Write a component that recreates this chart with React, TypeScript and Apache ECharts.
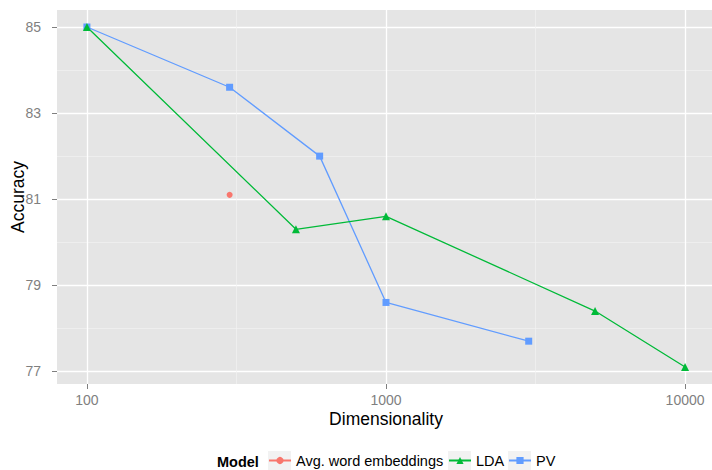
import React, { useEffect, useRef } from "react";
import * as echarts from "echarts";

// ---- data ----
const avgDims = [300];
const avgAcc = [81.1];
const ldaDims = [100, 500, 1000, 5000, 10000];
const ldaAcc = [85.0, 80.3, 80.6, 78.4, 77.1];
const pvDims = [100, 300, 600, 1000, 3000];
const pvAcc = [85.0, 83.6, 82.0, 78.6, 77.7];

const xTicks = [100, 1000, 10000];
const xMinorTicks = [316.2278, 3162.278];
const yTicks = [77, 79, 81, 83, 85];
const yMinorTicks = [78, 80, 82, 84];

const seriesNames = ["Avg. word embeddings", "LDA", "PV"];
const colors = ["#F8766D", "#00BA38", "#619CFF"];

const FONT = "Liberation Sans, Arial, Helvetica, sans-serif";

export default function App() {
  const ref = useRef<HTMLDivElement>(null);
  useEffect(() => {
    if (!ref.current) return;
    const chart = echarts.init(ref.current, null, { renderer: "svg" });
    const lg = (v: number) => Math.log10(v);
    const xMin = 1.9;
    const xMax = 4.1;
    const yMin = 76.705;
    const yMax = 85.395;
    const zip = (xs: number[], ys: number[]) => xs.map((x, i) => [lg(x), ys[i]]);

    const legendBase = (name: string, left: number) => ({
      data: [name],
      left,
      top: 453,
      padding: 0,
      itemWidth: 22,
      itemHeight: 9,
      selectedMode: false,
      textStyle: { color: "#000", fontSize: 14.5, fontFamily: FONT, padding: [0, 0, 0, 0] },
    });

    chart.setOption({
      animation: false,
      backgroundColor: "#fff",
      grid: {
        left: 57,
        top: 10,
        width: 658,
        height: 374,
        show: true,
        backgroundColor: "#E5E5E5",
        borderWidth: 0,
        containLabel: false,
        outerBoundsMode: "none",
      },
      xAxis: [
        {
          type: "value",
          min: xMin,
          max: xMax,
          position: "bottom",
          axisLine: { show: false },
          axisTick: { show: false, customValues: xMinorTicks.map(lg) },
          axisLabel: { show: false, customValues: xMinorTicks.map(lg) },
          splitLine: { show: true, lineStyle: { color: "#F2F2F2", width: 0.7 } },
        },
        {
          type: "value",
          min: xMin,
          max: xMax,
          position: "bottom",
          name: "Dimensionality",
          nameLocation: "middle",
          nameGap: 26,
          nameMoveOverlap: false,
          nameTextStyle: { color: "#000", fontSize: 17.5, fontFamily: FONT },
          axisLine: { show: false },
          axisTick: {
            show: true,
            length: 5,
            customValues: xTicks.map(lg),
            lineStyle: { color: "#7F7F7F", width: 1 },
          },
          axisLabel: {
            show: true,
            customValues: xTicks.map(lg),
            color: "#7F7F7F",
            fontSize: 14,
            fontFamily: FONT,
            margin: 9,
            formatter: (v: number) => String(Math.round(Math.pow(10, v))),
          },
          splitLine: { show: true, lineStyle: { color: "#FFFFFF", width: 1.3 } },
        },
      ],
      yAxis: [
        {
          type: "value",
          min: yMin,
          max: yMax,
          position: "left",
          axisLine: { show: false },
          axisTick: { show: false, customValues: yMinorTicks },
          axisLabel: { show: false, customValues: yMinorTicks },
          splitLine: { show: true, lineStyle: { color: "#F2F2F2", width: 0.7 } },
        },
        {
          type: "value",
          min: yMin,
          max: yMax,
          position: "left",
          name: "Accuracy",
          nameLocation: "middle",
          nameGap: 30,
          nameMoveOverlap: false,
          nameTextStyle: { color: "#000", fontSize: 17.5, fontFamily: FONT },
          axisLine: { show: false },
          axisTick: {
            show: true,
            length: 5,
            customValues: yTicks,
            lineStyle: { color: "#7F7F7F", width: 1 },
          },
          axisLabel: {
            show: true,
            customValues: yTicks,
            color: "#7F7F7F",
            fontSize: 14,
            fontFamily: FONT,
            margin: 16,
          },
          splitLine: { show: true, lineStyle: { color: "#FFFFFF", width: 1.3 } },
        },
      ],
      legend: [
        legendBase(seriesNames[0], 268),
        legendBase(seriesNames[1], 448),
        legendBase(seriesNames[2], 508),
      ],
      graphic: [
        {
          type: "text",
          left: 217,
          top: 454,
          z: 10,
          style: { text: "Model", fill: "#000", font: `bold 14.5px ${FONT}` },
        },
        { type: "rect", left: 267, top: 450, z: 0, shape: { width: 24, height: 24 }, style: { fill: "#F2F2F2", stroke: "#fff", lineWidth: 1 } },
        { type: "rect", left: 447, top: 450, z: 0, shape: { width: 24, height: 24 }, style: { fill: "#F2F2F2", stroke: "#fff", lineWidth: 1 } },
        { type: "rect", left: 507, top: 450, z: 0, shape: { width: 24, height: 24 }, style: { fill: "#F2F2F2", stroke: "#fff", lineWidth: 1 } },
      ],
      series: [
        {
          name: seriesNames[0],
          type: "line",
          xAxisIndex: 1,
          yAxisIndex: 1,
          data: zip(avgDims, avgAcc),
          symbol: "circle",
          symbolSize: 6,
          showSymbol: true,
          itemStyle: { color: colors[0] },
          lineStyle: { color: colors[0], width: 1.3 },
          emphasis: { disabled: true },
        },
        {
          name: seriesNames[2],
          type: "line",
          xAxisIndex: 1,
          yAxisIndex: 1,
          data: zip(pvDims, pvAcc),
          symbol: "rect",
          symbolSize: 7,
          showSymbol: true,
          itemStyle: { color: colors[2] },
          lineStyle: { color: colors[2], width: 1.3 },
          emphasis: { disabled: true },
        },
        {
          name: seriesNames[1],
          type: "line",
          xAxisIndex: 1,
          yAxisIndex: 1,
          data: zip(ldaDims, ldaAcc),
          symbol: "triangle",
          symbolSize: 8,
          showSymbol: true,
          itemStyle: { color: colors[1] },
          lineStyle: { color: colors[1], width: 1.3 },
          emphasis: { disabled: true },
        },
      ],
    });
    return () => chart.dispose();
  }, []);
  return (
    <div
      ref={ref}
      style={{ position: "absolute", left: 0, top: 0, width: 712, height: 470 }}
    />
  );
}
